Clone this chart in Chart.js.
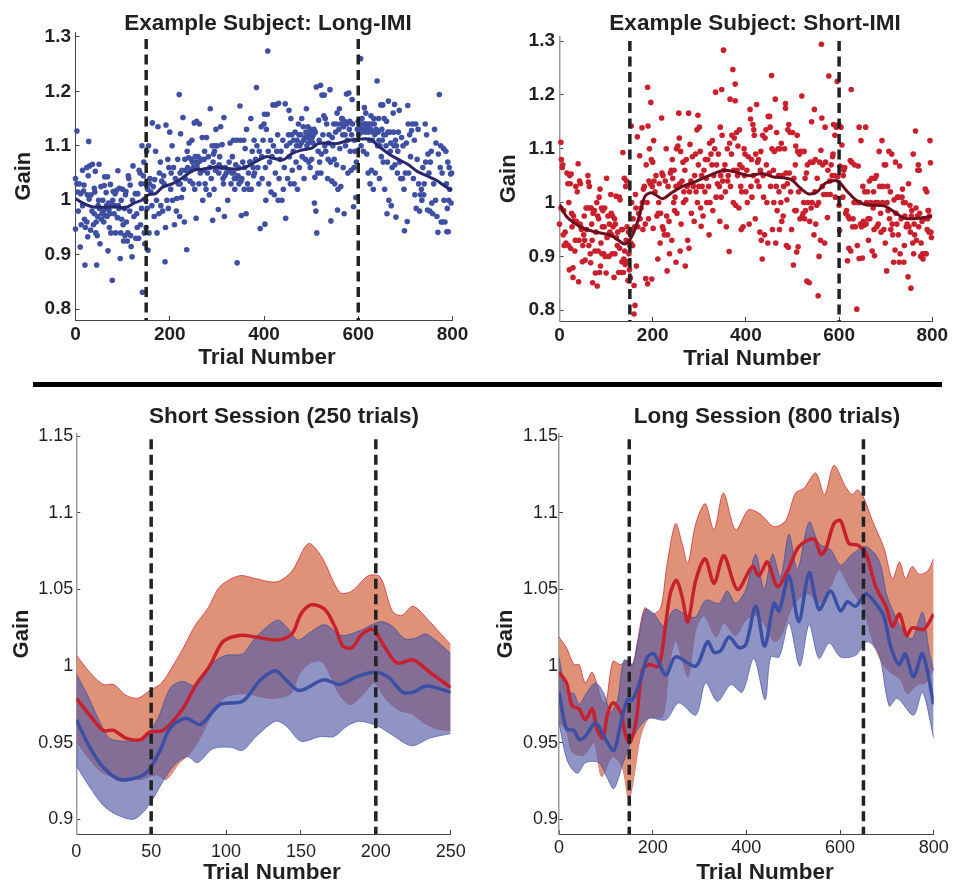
<!DOCTYPE html>
<html>
<head>
<meta charset="utf-8">
<title>Gain by trial number</title>
<script src="https://cdn.jsdelivr.net/npm/chart.js@4/dist/chart.umd.min.js"></script>
<style>
    html, body { margin: 0; padding: 0; background: #fff; overflow: hidden; }
    #figure { position: relative; width: 958px; height: 880px; overflow: hidden; }
    #figure canvas { position: absolute; }
    #divider { position: absolute; left: 33px; top: 382px; width: 909px; height: 5px; background: #000; }
</style>
</head>
<body>
<div id="figure">
    <div id="divider"></div>
    <canvas id="panelA"></canvas>
    <canvas id="panelB"></canvas>
    <canvas id="panelC"></canvas>
    <canvas id="panelD"></canvas>
</div>
<script>
// tick labels
const trialTicks800 = [0, 200, 400, 600, 800];
const trialTicks250 = [0, 50, 100, 150, 200, 250];
const gainTicksSubject = [0.8, 0.9, 1, 1.1, 1.2, 1.3];
const gainTicksSession = [0.9, 0.95, 1, 1.05, 1.1, 1.15];

// trials where the dashed lines sit
const subjectLongBlocks = [150, 600];
const subjectShortBlocks = [151, 600];
const shortSessionBlocks = [50, 200];
const longSessionBlocks = [150, 650];

// example subject, long-IMI: single trials [trial, gain]
const longImiTrials = [
[0,1.04],[0,.947],[3,1.127],[3,1.03],[5,1.015],[6,.98],[8,1.03],[10,.914],[11,1.012],[12,.955],[15,1.055],[15,.99],[17,1.017],[18,1.028],[19,.965],[20,.881],[21,.95],[24,.96],[24,1.06],[25,1.01],
[26,.933],[27,1.045],[28,1.108],[29,1.002],[30,1.063],[32,.945],[33,1.01],[35,.98],[36,1.066],[38,.955],[40,1.022],[41,1.015],[42,1.053],[43,.94],[45,.881],[46,.935],[48,.99],[49,1.0],[50,1.066],
[52,.92],[54,1.025],[56,.975],[58,1.0],[60,.96],[61,1.027],[62,1.043],[64,.985],[65,1.014],[67,.97],[68,1.043],[69,.907],[70,.995],[72,.95],[73,.975],[74,1.029],[75,.94],
[78,.853],[79,1.0],[80,1.016],[82,.975],[83,.99],[85,.94],[87,1.018],[89,.968],[90,1.054],[91,.99],[93,1.022],[95,.893],[96,.94],[97,1.0],[98,.965],
[100,1.02],[102,.925],[104,.985],[105,.935],[107,1.016],[108,.96],[110,.925],[112,1.045],[113,1.04],[115,.98],[116,1.028],[117,.935],[118,.915],[120,.896],[121,1.0],[122,1.063],[124,.97],
[127,1.012],[128,.93],[130,.975],[131,.95],[132,1.012],[134,.93],[135,1.055],[137,1.05],[138,.955],[139,1.03],[140,.985],[141,1.1],[142,.831],[144,1.045],[145,1.07],[146,.94],[147,.92],[148,1.03],[149,1.0],
[150,.95],[151,1.09],[152,.985],[153,1.02],[154,.908],[155,1.1],[156,.94],[157,1.03],[158,1.04],[160,1.015],[162,.99],[163,1.142],[165,1.025],[167,.97],[168,1.038],[170,1.09],[172,1.0],[173,.94],[175,1.135],
[177,.975],[178,1.05],[180,1.07],[181,.99],[183,1.035],[185,.98],[187,1.045],[188,1.03],[190,.887],[191,.95],[192,1.138],[194,1.0],[196,1.075],[197,.985],[198,1.06],[200,1.125],
[202,1.02],[203,1.05],[205,1.1],[206,1.0],[208,1.06],[210,.955],[212,1.04],[214,.98],[215,1.003],[217,1.075],[218,1.03],[220,1.194],[221,.97],[222,1.05],[223,1.122],[225,1.005],
[226,1.055],[228,1.152],[229,1.02],[231,.96],[232,1.075],[233,1.04],[236,.909],[237,1.09],[238,1.06],[240,1.078],[241,1.105],[243,1.035],[245,1.055],[246,1.075],[247,1.11],[249,1.03],[250,1.06],
[252,1.142],[253,1.02],[255,1.07],[256,.967],[257,1.145],[258,1.06],[260,1.08],[262,1.03],[263,1.14],[265,1.05],[267,1.075],[269,1.115],[270,1.0],[272,1.055],[274,1.09],[275,1.03],
[277,1.02],[278,1.115],[280,1.05],[282,1.08],[284,1.01],[286,1.168],[288,1.04],[290,1.1],[291,.963],[292,1.07],[294,1.02],[295,1.09],[297,1.055],[298,1.13],[300,1.06],
[301,1.1],[303,.983],[304,1.05],[306,1.08],[308,1.135],[310,1.06],[311,1.102],[313,1.04],[314,1.03],[315,1.152],[316,.97],[318,1.06],[320,1.05],[323,1.0],
[326,1.07],[328,1.105],[330,1.03],[332,1.05],[333,1.08],[335,1.11],[337,1.04],[338,1.02],[340,1.065],[342,1.11],[343,.885],[345,1.045],[347,1.03],[349,1.173],[350,1.11],
[352,.972],[353,1.04],[355,1.07],[357,1.11],[358,1.02],[360,1.095],[362,.975],[363,1.13],[365,1.03],[367,1.05],[368,1.02],[370,1.07],[372,1.15],[373,1.02],[375,1.09],
[377,1.06],[379,1.11],[380,1.05],[382,1.075],[384,1.207],[385,1.1],[387,1.06],[389,1.03],[390,1.09],[392,.948],[394,1.135],[395,1.08],[396,1.04],[398,1.11],[400,1.14],
[401,1.158],[402,.956],[403,1.06],[404,1.0],[405,1.13],[407,1.158],[408,1.274],[409,1.09],[410,1.03],[412,1.07],[414,1.11],[415,1.015],[417,1.08],[419,1.175],[420,1.1],[422,1.01],[424,1.05],[425,1.175],
[427,1.09],[429,1.12],[430,1.0],[431,1.178],[432,1.04],[434,1.075],[436,1.09],[438,1.0],[440,1.11],[441,1.02],[443,1.06],[445,1.177],[446,.967],[448,1.1],[450,1.04],
[452,1.12],[453,1.165],[454,1.08],[456,1.03],[457,1.15],[459,1.12],[460,1.055],[462,1.09],[464,1.03],[466,1.125],[468,1.07],[470,1.11],[471,1.02],[473,1.14],[475,1.06],
[476,1.1],[478,1.12],[480,1.15],[481,1.08],[483,1.135],[485,1.04],[487,1.115],[488,1.075],[490,1.168],[491,1.1],[493,1.135],[495,1.07],[496,1.12],[498,1.06],[500,1.11],
[501,1.075],[503,1.125],[505,1.12],[507,.995],[508,1.042],[510,.98],[511,1.208],[512,.94],[514,1.05],[515,1.09],[516,1.147],[518,1.07],[520,1.211],[521,1.05],[523,1.193],[525,1.12],
[527,1.155],[528,1.193],[530,1.15],[531,1.09],[533,1.14],[535,1.04],[536,1.075],[538,1.12],[540,1.203],[541,1.07],[542,.962],[544,1.035],[546,1.1],[548,1.14],[549,1.075],[550,1.03],
[552,1.125],[554,1.065],[555,1.16],[556,.982],[557,1.02],[559,1.13],[560,1.168],[561,1.095],[563,1.025],[565,1.15],[567,1.12],[568,1.06],[570,.975],[571,1.145],[573,1.1],[575,1.195],
[576,1.14],[578,1.05],[580,1.197],[581,1.13],[583,1.09],[585,1.055],[587,1.185],[588,1.14],[590,.988],[591,1.06],[592,1.11],[593,1.09],[595,1.005],[596,1.07],[598,1.13],[600,1.145],
[601,1.12],[603,1.135],[605,1.26],[606,1.1],[608,1.15],[609,1.13],[611,1.09],[613,1.17],[614,1.14],[616,1.16],[618,1.085],[620,1.13],[621,1.05],[623,1.14],[625,1.03],
[627,1.155],[628,1.055],[630,1.11],[632,1.02],[634,1.14],[636,1.05],[638,1.13],[640,1.219],[641,1.1],[643,1.15],[645,1.04],[646,1.1],[648,1.175],[649,1.08],[650,1.13],
[652,1.175],[653,1.07],[655,1.15],[656,1.02],[658,1.12],[660,1.145],[661,.975],[662,1.07],[664,1.182],[665,1.0],[667,1.125],[668,1.09],[670,.99],[672,1.06],[674,1.16],[675,1.125],
[677,1.176],[678,1.065],[680,.969],[681,1.1],[683,1.05],[685,1.125],[687,1.165],[688,1.07],[690,1.04],[692,1.115],[694,1.04],[695,1.1],[697,1.02],[698,.944],[700,1.05],
[702,1.105],[704,.961],[705,1.174],[706,1.14],[707,1.05],[709,1.12],[711,1.08],[713,1.128],[715,1.14],[717,1.04],[719,1.11],[720,1.01],[722,1.14],[723,.985],[725,1.075],
[727,1.13],[728,1.03],[730,.98],[732,1.01],[734,1.02],[735,1.0],[737,1.06],[739,1.01],[740,1.03],[742,1.14],[743,1.07],[745,1.12],[747,.982],[748,1.085],[750,1.05],
[752,.98],[753,1.07],[755,1.09],[756,.995],[758,.975],[760,1.03],[762,1.13],[764,1.0],[765,1.105],[767,.97],[769,.941],[770,1.085],[772,1.194],[774,1.06],[775,1.1],
[776,.96],[778,1.05],[779,.96],[781,1.095],[782,1.0],[784,.96],[786,1.09],[787,1.03],[788,.942],[789,.985],[790,1.07],[791,.942],[792,1.0],[793,1.06],[794,1.02],[796,1.048],[797,.995],[798,1.05],
[40,.975],[44,.96],[47,.97],[51,.985],[55,.965],[59,.98],[63,.972],[66,.99],[71,.982],[76,.99],[84,1.012],[92,.985],[101,.955],[106,1.01],[111,.94],
[222,1.03],[234,1.055],[248,1.07],[254,1.08],[259,1.068],[264,1.072],[273,1.075],[285,1.06],[293,1.085],[296,1.1],[305,1.065],[317,1.045],[325,1.055],[336,1.05],[341,1.04],[346,1.06],[351,1.035],[359,1.06],[371,1.07],[378,1.045],
[455,1.105],[463,1.11],[469,1.1],[474,1.12],[479,1.105],[484,1.11],[489,1.125],[492,1.115],[494,1.105],[497,1.12],[499,1.13],[502,1.115],[504,1.105],[506,1.13],[509,1.125],
[517,1.11],[522,1.085],[529,1.1],[537,1.105],[545,1.115],[553,1.14],[562,1.14],[566,1.15],[569,1.135],[572,1.12],[577,1.11],[582,1.145],[586,1.12],
[602,1.13],[604,1.14],[607,1.125],[610,1.14],[612,1.13],[615,1.125],[617,1.14],[619,1.135],[622,1.125],[624,1.11],[626,1.13],[629,1.14],[631,1.125],[633,1.15],[635,1.12],[642,1.125],[644,1.11],[651,1.11],[654,1.12],[659,1.1],[663,1.125],[669,1.105],[676,1.1],[679,1.11],[684,1.09]
];
const longImiMean = [[0,1.003],[15,.995],[35,.988],[60,.987],[85,.988],[105,.986],[125,.995],[140,1.0],[155,1.01],[170,1.012],[185,1.024],[205,1.03],[225,1.04],[250,1.055],[270,1.057],[300,1.061],[325,1.058],[345,1.057],[365,1.062],[385,1.072],[405,1.08],[420,1.077],[440,1.074],[460,1.086],[480,1.092],[500,1.095],[515,1.104],[530,1.105],[555,1.104],[580,1.11],[600,1.112],[625,1.112],[645,1.098],[665,1.085],[685,1.075],[705,1.066],[725,1.053],[745,1.045],[765,1.037],[785,1.025],[798,1.018]];

// example subject, short-IMI: single trials [trial, gain]
const shortImiTrials = [
[0,.96],[3,1.112],[3,.99],[4,1.08],[6,1.065],[7,1.07],[8,.94],[9,.985],[10,.92],[12,.945],[14,.925],[16,1.055],[18,1.035],[19,.92],[20,1.0],[21,.875],[22,1.05],[23,1.035],[24,.915],[25,1.053],
[26,.98],[27,.955],[29,.879],[29,.861],[30,.975],[31,.965],[33,.91],[34,.93],[35,1.03],[36,.965],[38,1.02],[40,1.072],[41,.853],[42,.93],[43,1.04],[44,.96],[45,1.035],[46,.955],[47,.95],[49,.89],
[50,.92],[52,.94],[53,.975],[54,.93],[55,.893],[57,.99],[58,.95],[60,.99],[61,1.05],[62,1.038],[63,.92],[64,1.03],[65,.99],[66,.905],[67,.888],[68,.99],[69,.96],[70,.93],[71,.851],[72,.98],
[75,.985],[76,.91],[77,.869],[78,.945],[80,1.0],[81,.845],[82,.975],[83,.91],[84,.97],[85,1.01],[86,.87],[87,1.025],[88,.882],[89,.925],[90,.99],[91,.905],[92,.955],[93,.985],[95,.905],[96,.955],[97,.99],[98,.9],
[100,.869],[101,1.045],[102,.935],[104,.975],[105,.94],[106,.9],[107,.96],[108,.945],[110,1.015],[111,.98],[112,.94],[113,.905],[114,.975],[115,.955],[117,.861],[118,.97],[119,.905],[120,.96],[121,1.012],[122,.935],[124,.92],[125,.945],
[127,.87],[128,1.01],[129,.915],[130,1.005],[132,.87],[133,.95],[134,.89],[135,.95],[136,1.093],[137,.87],[138,.895],[139,1.045],[140,.91],[141,.885],[142,1.03],[143,.93],[144,1.04],[145,.955],[146,.89],[147,.855],[148,.945],[149,.905],[150,.875],
[151,.92],[152,.86],[153,.925],[154,1.142],[155,1.0],[156,.95],[157,.92],[158,.97],[160,.846],[160,.793],[161,.955],[162,.809],[163,1.015],[164,.99],[165,.882],[167,1.122],[168,.955],[170,.98],[172,1.087],[173,.97],[175,.99],
[177,1.139],[178,1.0],[179,.95],[180,1.025],[182,1.03],[184,.96],[185,.859],[186,1.07],[188,1.0],[189,1.214],[189,.849],[190,1.142],[191,.97],[192,1.04],[193,1.1],[195,1.035],[196,1.186],[197,1.08],[198,.858],[199,1.03],[200,1.075],
[201,.952],[202,1.115],[203,1.04],[205,1.02],[207,1.05],[209,.975],[211,.895],[212,.98],[213,1.0],[214,1.035],[216,.925],[217,.98],[219,1.157],[220,1.055],[221,.955],[222,1.05],[223,.95],[225,.94],
[227,1.04],[229,1.1],[230,.975],[231,.873],[232,.94],[233,1.03],[235,.965],[236,.905],[238,1.055],[240,1.06],[241,.93],[242,1.08],[243,1.045],[245,1.0],[246,1.06],[247,.985],[248,1.01],[250,.889],[250,1.03],
[251,1.1],[252,.98],[254,1.105],[256,1.166],[257,1.12],[258,1.035],[259,.91],[260,1.095],[261,.96],[263,1.04],[265,1.075],[266,1.0],[267,1.02],[269,1.06],[270,.882],[271,1.005],[272,1.08],[274,1.03],[275,.93],
[277,1.166],[278,.915],[279,1.02],[280,1.108],[282,1.04],[283,.98],[285,1.085],[286,1.035],[287,1.03],[289,.965],[290,1.05],[292,1.09],[293,1.02],[295,1.135],[296,1.0],[297,1.162],[298,1.07],[299,1.03],[300,1.14],
[302,1.095],[303,.99],[304,.956],[305,1.05],[306,1.03],[308,.975],[310,1.06],[312,1.02],[313,1.08],[315,1.045],[316,1.0],[318,1.08],[320,1.03],[321,.94],[322,1.11],[323,1.0],[325,1.09],
[327,1.07],[328,1.115],[329,.985],[331,1.05],[333,1.1],[335,1.205],[336,1.01],[337,1.07],[339,1.035],[341,1.09],[343,1.03],[344,.965],[345,1.14],[346,1.05],[347,1.01],[348,1.21],[349,1.125],[350,1.04],
[352,1.283],[353,1.06],[355,1.07],[356,1.02],[358,.955],[360,1.1],[361,1.04],[362,1.05],[364,.909],[365,1.11],[366,1.192],[367,1.03],[369,1.09],[370,1.125],[372,1.247],[373,1.0],[374,1.06],[375,1.12],
[377,1.22],[377,1.189],[378,.995],[380,1.13],[381,1.06],[382,1.05],[383,1.105],[385,.99],[386,1.135],[387,1.07],[389,1.03],[390,.95],[391,1.02],[392,1.065],[394,.955],[396,1.1],[397,1.05],[398,1.09],[400,1.02],
[402,1.06],[403,1.0],[405,1.085],[407,.96],[409,1.173],[410,1.155],[411,1.03],[412,1.08],[413,1.01],[415,1.145],[416,1.05],[417,1.135],[418,1.125],[420,.97],[421,1.09],[423,1.182],[424,1.04],[425,1.075],
[427,1.08],[428,1.03],[430,.945],[431,1.06],[432,1.095],[433,.93],[435,.895],[436,1.125],[437,1.05],[438,1.01],[440,.94],[441,1.12],[443,1.135],[444,1.07],[445,1.0],[447,.925],[448,1.16],[450,1.055],
[451,1.16],[452,1.14],[453,1.03],[455,1.236],[456,1.1],[457,.95],[459,1.06],[460,1.0],[461,1.095],[463,1.192],[464,.925],[465,1.03],[466,1.13],[467,.985],[469,1.1],[470,1.05],[471,1.02],[472,.95],[473,1.1],[475,1.0],
[476,1.11],[477,.965],[478,1.05],[480,.975],[481,1.03],[483,1.1],[485,1.184],[485,1.175],[486,1.055],[487,.92],[488,1.005],[489,1.035],[490,1.135],[491,.917],[492,1.145],[493,1.055],[495,1.13],[496,1.02],[498,.95],[500,1.13],
[502,.884],[503,1.045],[505,.985],[506,1.07],[507,1.105],[508,.985],[509,.908],[510,1.125],[511,1.095],[512,.918],[513,1.02],[515,1.09],[516,.97],[518,1.095],[520,1.198],[521,.975],[523,.98],[524,1.0],[525,1.095],
[526,.97],[527,1.045],[528,.985],[530,1.055],[531,.854],[532,1.07],[533,1.0],[536,.851],[537,.965],[538,1.075],[540,.99],[541,1.15],[542,1.0],[544,1.075],[546,.94],[547,1.173],[548,1.02],[549,1.08],[550,.96],
[552,.995],[553,1.045],[555,.827],[556,1.0],[557,.9],[558,1.075],[560,.93],[561,1.097],[562,1.294],[563,1.157],[564,1.03],[565,1.07],[567,1.015],[569,.925],[570,1.14],[571,1.075],[573,1.015],[575,.972],
[576,1.06],[578,1.235],[580,1.04],[581,1.015],[583,1.07],[585,1.05],[586,1.085],[587,1.09],[588,1.145],[590,1.05],[591,1.125],[592,1.01],[594,1.14],[596,1.225],[597,1.048],[599,1.145],[600,.995],
[601,.948],[602,1.068],[604,1.14],[606,1.107],[608,1.01],[609,1.05],[610,1.06],[612,1.065],[614,.98],[616,.985],[618,.892],[619,.975],[621,.915],[622,.97],[624,1.078],[625,.91],[626,1.21],[627,1.075],
[629,.955],[630,.97],[632,1.0],[633,1.07],[635,.955],[638,.802],[639,.92],[640,1.0],[641,1.068],[643,1.14],[643,.896],[644,1.0],[646,.96],[647,1.115],[648,.955],[650,.897],
[651,1.03],[652,.965],[654,.958],[655,1.02],[657,1.14],[658,.96],[659,1.0],[661,1.02],[662,.97],[663,.93],[665,1.04],[666,.97],[668,1.0],[670,1.045],[671,.91],[673,.99],[674,1.02],[675,.95],
[676,.901],[677,1.045],[678,1.0],[680,1.05],[681,.955],[683,1.0],[684,.96],[686,1.095],[687,1.03],[689,.98],[690,.945],[692,1.115],[693,1.0],[694,1.03],[696,.95],[697,1.07],[699,.925],[700,1.07],
[702,.873],[703,1.0],[704,1.03],[705,.985],[707,1.095],[708,.97],[710,1.02],[711,.95],[713,1.09],[714,.96],[715,.94],[717,.889],[718,1.005],[720,.912],[721,1.075],[722,.98],[724,.96],[725,1.01],
[727,.94],[728,1.01],[729,.889],[730,1.068],[731,.905],[733,.97],[735,1.01],[736,1.025],[738,1.0],[739,.889],[740,.92],[741,.975],[742,1.0],[744,.955],[746,.96],[748,.862],[749,1.035],[750,.955],
[752,.995],[753,.945],[754,.841],[755,.975],[756,.985],[758,.925],[759,1.09],[760,.905],[761,.96],[762,.94],[764,1.133],[765,.99],[766,.93],[768,.975],[769,1.06],[770,1.07],[771,.955],[772,1.06],[773,.98],[775,.9],
[776,.925],[778,.965],[779,.905],[780,.895],[782,.97],[784,.905],[785,1.025],[787,.905],[788,1.02],[789,.95],[790,.97],[791,.985],[792,.985],[793,.945],[794,.975],[795,1.115],[796,1.074],[797,.945],[798,.935]
];
const shortImiMean = [[0,.997],[15,.974],[35,.96],[49,.953],[74,.946],[110,.939],[128,.929],[139,.923],[150,.93],[160,.946],[171,.974],[183,1.011],[196,1.018],[207,1.014],[221,1.007],[239,1.017],[264,1.03],[292,1.039],[321,1.05],[353,1.06],[375,1.057],[407,1.05],[435,1.054],[457,1.048],[496,1.043],[518,1.026],[535,1.016],[553,1.02],[571,1.036],[596,1.04],[618,1.02],[636,1.005],[657,.996],[696,.994],[718,.983],[739,.971],[761,.97],[799,.974]];

// short session (250 trials)
const shortRedUpper = [[0,1.007],[9,.996],[18,.988],[25,.988],[33,.981],[41,.979],[49,.984],[57,.989],[65,1.001],[71,1.011],[79,1.026],[88,1.038],[96,1.052],[109,1.059],[120,1.057],[134,1.055],[144,1.062],[155,1.08],[164,1.071],[176,1.048],[184,1.049],[195,1.059],[203,1.058],[211,1.036],[217,1.033],[225,1.039],[236,1.029],[250,1.014]];
const shortRedLower = [[0,.951],[9,.939],[18,.93],[31,.927],[43,.926],[49,.928],[54,.929],[60,.926],[69,.937],[76,.943],[83,.954],[91,.969],[100,.98],[114,.982],[123,.98],[132,.979],[143,.982],[149,.995],[156,1.002],[164,1.003],[169,.995],[176,.981],[183,.975],[192,.982],[199,.989],[207,.978],[216,.971],[224,.969],[232,.963],[241,.959],[250,.958]];
const shortBlueUpper = [[0,.995],[7,.982],[16,.963],[22,.953],[31,.951],[43,.952],[49,.957],[55,.967],[63,.986],[71,.99],[80,.987],[91,1.002],[100,1.007],[111,1.008],[120,1.019],[134,1.03],[140,1.026],[148,1.017],[156,1.022],[166,1.027],[177,1.02],[189,1.023],[203,1.029],[211,1.026],[219,1.018],[226,1.018],[233,1.021],[241,1.016],[250,1.008]];
const shortBlueLower = [[0,.935],[9,.921],[18,.909],[27,.903],[38,.9],[45,.905],[51,.913],[58,.925],[65,.935],[74,.941],[81,.937],[91,.946],[103,.947],[111,.945],[120,.954],[133,.964],[140,.961],[150,.951],[163,.954],[172,.954],[181,.961],[189,.964],[201,.961],[211,.955],[224,.948],[236,.953],[250,.956]];
const shortRedMean = [[0,.979],[9,.968],[18,.958],[25,.958],[33,.953],[43,.952],[49,.957],[58,.958],[71,.972],[80,.988],[89,1.0],[98,1.016],[109,1.02],[120,1.019],[134,1.017],[144,1.021],[150,1.034],[157,1.04],[166,1.037],[173,1.025],[178,1.013],[184,1.012],[191,1.021],[198,1.024],[205,1.014],[214,1.002],[225,1.004],[236,.996],[250,.986]];
const shortBlueMean = [[0,.965],[9,.947],[18,.934],[29,.926],[43,.928],[49,.933],[56,.945],[63,.96],[73,.966],[83,.962],[96,.975],[111,.977],[123,.991],[133,.997],[140,.991],[149,.984],[165,.991],[176,.988],[187,.993],[199,.996],[208,.993],[218,.983],[225,.983],[234,.987],[250,.983]];

// long session (800 trials)
const longRedUpper = [[0,1.019],[16,1.012],[32,1.001],[43,1.001],[56,.989],[71,.996],[91,.978],[100,.976],[115,1.003],[132,1.001],[146,1.004],[157,1.001],[167,1.015],[183,1.038],[199,1.034],[217,1.038],[231,1.067],[249,1.093],[263,1.08],[275,1.067],[292,1.093],[312,1.106],[331,1.089],[351,1.113],[377,1.089],[404,1.102],[420,1.101],[434,1.098],[459,1.091],[484,1.095],[505,1.113],[523,1.116],[548,1.126],[567,1.112],[587,1.131],[612,1.117],[626,1.112],[637,1.115],[649,1.111],[669,1.095],[694,1.077],[712,1.057],[727,1.068],[740,1.057],[754,1.065],[769,1.06],[787,1.062],[800,1.07]];
const longRedLower = [[0,.963],[16,.958],[28,.944],[53,.942],[75,.95],[91,.928],[114,.941],[135,.934],[149,.913],[160,.928],[174,.954],[192,.966],[221,.967],[235,1.0],[249,1.017],[263,1.004],[276,.993],[292,1.024],[310,1.033],[335,1.019],[352,1.028],[377,1.02],[399,1.03],[420,1.033],[441,1.026],[459,1.016],[473,1.019],[495,1.037],[512,1.044],[534,1.047],[555,1.041],[580,1.052],[598,1.063],[619,1.052],[637,1.044],[651,1.037],[669,1.017],[690,1.002],[708,.996],[730,.991],[744,.982],[765,.988],[783,.989],[800,.999]];
const longBlueUpper = [[0,1.006],[16,.983],[32,.982],[43,.975],[60,.983],[78,.989],[96,.982],[110,.97],[125,.978],[139,1.004],[157,1.001],[171,1.02],[185,1.037],[203,1.034],[224,1.026],[246,1.037],[274,1.033],[292,1.032],[313,1.043],[342,1.041],[359,1.049],[377,1.041],[399,1.05],[420,1.073],[438,1.05],[456,1.073],[473,1.058],[491,1.086],[509,1.063],[534,1.094],[555,1.08],[580,1.076],[601,1.066],[626,1.073],[655,1.078],[683,1.069],[701,1.045],[722,1.03],[737,1.022],[754,1.018],[776,1.035],[790,1.01],[800,.997]];
const longBlueLower = [[0,.963],[18,.938],[39,.93],[57,.937],[85,.937],[103,.927],[117,.92],[135,.935],[153,.95],[171,.96],[192,.966],[228,.965],[256,.976],[292,.968],[313,.989],[338,.977],[367,.988],[391,.983],[416,1.005],[440,.978],[452,1.006],[470,1.006],[491,1.028],[514,1.0],[534,1.027],[555,1.005],[577,1.015],[601,1.006],[633,1.007],[658,1.016],[683,1.008],[705,.974],[722,.979],[757,.968],[776,.983],[800,.953]];
const longRedMean = [[0,.996],[16,.989],[28,.974],[43,.972],[56,.965],[71,.972],[82,.958],[94,.953],[103,.968],[115,.976],[132,.97],[142,.955],[151,.95],[164,.963],[178,.997],[192,1.001],[213,1.0],[228,1.028],[238,1.048],[251,1.056],[263,1.045],[275,1.029],[292,1.056],[312,1.07],[331,1.054],[352,1.072],[381,1.05],[413,1.065],[427,1.059],[445,1.068],[466,1.052],[488,1.062],[512,1.078],[544,1.083],[559,1.073],[569,1.076],[587,1.093],[601,1.095],[619,1.08],[637,1.079],[655,1.074],[676,1.052],[698,1.039],[712,1.026],[727,1.034],[742,1.02],[754,1.025],[779,1.024],[800,1.034]];
const longBlueMean = [[0,.983],[16,.959],[32,.958],[43,.952],[56,.954],[78,.963],[96,.954],[117,.945],[132,.963],[146,.978],[157,.978],[174,.991],[189,1.006],[203,1.008],[228,.994],[249,1.006],[292,1.0],[317,1.016],[331,1.009],[345,1.01],[363,1.019],[384,1.012],[399,1.014],[420,1.039],[439,1.013],[459,1.041],[470,1.036],[491,1.059],[512,1.029],[534,1.061],[555,1.037],[580,1.049],[601,1.036],[616,1.042],[633,1.039],[655,1.047],[676,1.041],[694,1.032],[708,1.013],[726,1.001],[739,1.008],[757,.993],[776,1.008],[800,.975]];

const TEXT_COLOR = '#231f20';
const FONT = '"Liberation Sans", Arial, sans-serif';

const BLUE_DOT = '#3f50a2';
const RED_DOT = '#c8202c';
const RED_LINE = '#c8202c';
const BLUE_LINE = '#3b4fa4';
const RED_BAND = 'rgb(223, 146, 120)';
const BLUE_BAND = 'rgba(83, 91, 166, 0.65)';

// titles and the x label are placed by hand, they are not centred on the axes in the figure
const captions = {
    id: 'captions',
    afterDraw(chart, args, opts) {
        const ctx = chart.ctx;
        ctx.save();
        ctx.fillStyle = TEXT_COLOR;
        ctx.textAlign = 'center';
        ctx.textBaseline = 'middle';
        ctx.font = 'bold 22.5px ' + FONT;
        ctx.fillText(opts.title, opts.titleX, opts.titleY);
        ctx.fillText(chart.options.scales.x.title.text, opts.xLabelX, opts.xLabelY);
        ctx.restore();
    }
};

function dashedLines(trials, top, bottom) {
    return trials.map(function(t) {
        return {
            label: 'block ' + t,
            data: [[t, top], [t, bottom]],
            borderColor: '#222',
            borderWidth: 3.5,
            borderDash: [10, 5.5],
            pointRadius: 0,
            order: 0,
            clip: false
        };
    });
}

function dots(label, data, color) {
    return { label: label, data: data, showLine: false, pointRadius: 2.8, pointBorderWidth: 0, pointBackgroundColor: color, order: 5, clip: false };
}

function meanLine(label, data, color, width, order) {
    return { label: label, data: data, borderColor: color, borderWidth: width, tension: 0.3, pointRadius: 0, order: order };
}

function band(label, data, fill, edge, order, fillTo) {
    return { label: label, data: data, borderColor: edge, borderWidth: 0.7, backgroundColor: fill, fill: fillTo, tension: 0.3, pointRadius: 0, order: order };
}

function makePanel(p) {
    const el = document.getElementById(p.id);
    el.width = p.box.w;
    el.height = p.box.h;
    el.style.left = p.box.x + 'px';
    el.style.top = p.box.y + 'px';
    el.style.width = p.box.w + 'px';
    el.style.height = p.box.h + 'px';

    return new Chart(el.getContext('2d'), {
        type: 'line',
        data: { datasets: p.datasets },
        plugins: [captions],
        options: {
            responsive: false,
            animation: false,
            layout: {
                autoPadding: false,
                padding: { left: 0, right: p.box.x + p.box.w - p.plot.right, top: p.plot.top - p.box.y, bottom: 0 }
            },
            plugins: {
                legend: { display: false },
                title: { display: false },
                tooltip: { enabled: false },
                captions: {
                    title: p.title,
                    titleX: p.titleX - p.box.x,
                    titleY: p.titleY - p.box.y,
                    xLabelX: p.xLabelX - p.box.x,
                    xLabelY: p.xLabelY - p.box.y
                }
            },
            scales: {
                x: {
                    type: 'linear',
                    min: p.xTicks[0],
                    max: p.xTicks[p.xTicks.length - 1],
                    title: { display: false, text: 'Trial Number' },
                    border: { color: '#444', width: 1 },
                    grid: { drawOnChartArea: false, tickLength: -4, color: '#444' },
                    afterBuildTicks: function(s) { s.ticks = p.xTicks.map(function(v) { return { value: v }; }); },
                    afterFit: function(s) { s.height = p.box.y + p.box.h - p.plot.bottom; },
                    ticks: {
                        autoSkip: false,
                        maxRotation: 0,
                        padding: p.xTickPad,
                        color: TEXT_COLOR,
                        font: { family: FONT, size: p.tickSize, weight: p.tickWeight },
                        callback: function(v) { return String(v); }
                    }
                },
                y: {
                    type: 'linear',
                    min: p.yMin,
                    max: p.yMax,
                    title: {
                        display: true,
                        text: 'Gain',
                        color: TEXT_COLOR,
                        font: { family: FONT, size: 22, weight: 'bold' },
                        padding: { top: p.gainPad, bottom: 0 }
                    },
                    border: { color: p.yAxisColor, width: p.yAxisWidth },
                    grid: { drawOnChartArea: false, tickLength: -4, color: '#444' },
                    afterBuildTicks: function(s) { s.ticks = p.yTicks.map(function(v) { return { value: v }; }); },
                    afterFit: function(s) { s.width = p.plot.left - p.box.x; },
                    ticks: {
                        autoSkip: false,
                        padding: p.yTickPad,
                        color: TEXT_COLOR,
                        font: { family: FONT, size: p.tickSize, weight: p.tickWeight },
                        callback: function(v) { return String(v); }
                    }
                }
            }
        }
    });
}

makePanel({
    id: 'panelA',
    box: { x: 0, y: 0, w: 479, h: 380 },
    plot: { left: 75.5, right: 452.5, top: 32.5, bottom: 320 },
    title: 'Example Subject: Long-IMI', titleX: 268, titleY: 23.5, xLabelX: 267, xLabelY: 358,
    xTicks: trialTicks800, yTicks: gainTicksSubject, yMin: 0.78, yMax: 1.308,
    tickWeight: 'bold', tickSize: 19, xTickPad: 7, yTickPad: 8.5, gainPad: 11, yAxisColor: '#444', yAxisWidth: 1,
    datasets: dashedLines(subjectLongBlocks, 1.296, 0.78).concat([
        meanLine('Long-IMI mean', longImiMean, '#28286e', 3, 1),
        dots('Long-IMI trials', longImiTrials, BLUE_DOT)
    ])
});

makePanel({
    id: 'panelB',
    box: { x: 490, y: 0, w: 468, h: 380 },
    plot: { left: 559.5, right: 932.3, top: 36.7, bottom: 321 },
    title: 'Example Subject: Short-IMI', titleX: 755, titleY: 23.5, xLabelX: 752, xLabelY: 359,
    xTicks: trialTicks800, yTicks: gainTicksSubject, yMin: 0.78, yMax: 1.308,
    tickWeight: 'bold', tickSize: 19, xTickPad: 7, yTickPad: 8.5, gainPad: 6, yAxisColor: '#999', yAxisWidth: 1.5,
    datasets: dashedLines(subjectShortBlocks, 1.3, 0.78).concat([
        meanLine('Short-IMI mean', shortImiMean, '#6b0f1f', 3, 1),
        dots('Short-IMI trials', shortImiTrials, RED_DOT)
    ])
});

// fill:'+1' runs from each upper edge down to the lower edge right after it
makePanel({
    id: 'panelC',
    box: { x: 0, y: 390, w: 479, h: 490 },
    plot: { left: 76.3, right: 450.7, top: 434, bottom: 834 },
    title: 'Short Session (250 trials)', titleX: 284, titleY: 416.5, xLabelX: 272, xLabelY: 873,
    xTicks: trialTicks250, yTicks: gainTicksSession, yMin: 0.8904, yMax: 1.1515,
    tickWeight: 'normal', tickSize: 18, xTickPad: 11, yTickPad: 7, gainPad: 9, yAxisColor: '#999', yAxisWidth: 1.5,
    datasets: dashedLines(shortSessionBlocks, 1.148, 0.8904).concat([
        meanLine('Long-IMI mean', shortBlueMean, BLUE_LINE, 3.5, 1),
        meanLine('Short-IMI mean', shortRedMean, RED_LINE, 3.5, 2),
        band('Long-IMI upper', shortBlueUpper, BLUE_BAND, BLUE_LINE, 3, '+1'),
        band('Long-IMI lower', shortBlueLower, BLUE_BAND, BLUE_LINE, 3, false),
        band('Short-IMI upper', shortRedUpper, RED_BAND, RED_LINE, 4, '+1'),
        band('Short-IMI lower', shortRedLower, RED_BAND, RED_LINE, 4, false)
    ])
});

makePanel({
    id: 'panelD',
    box: { x: 490, y: 390, w: 468, h: 490 },
    plot: { left: 559, right: 933.7, top: 434, bottom: 834 },
    title: 'Long Session (800 trials)', titleX: 767, titleY: 416.5, xLabelX: 765, xLabelY: 873,
    xTicks: trialTicks800, yTicks: gainTicksSession, yMin: 0.8904, yMax: 1.1515,
    tickWeight: 'normal', tickSize: 18, xTickPad: 7, yTickPad: 5, gainPad: 3, yAxisColor: '#999', yAxisWidth: 1.5,
    datasets: dashedLines(longSessionBlocks, 1.148, 0.8904).concat([
        meanLine('Long-IMI mean', longBlueMean, BLUE_LINE, 3.5, 1),
        meanLine('Short-IMI mean', longRedMean, RED_LINE, 3.5, 2),
        band('Long-IMI upper', longBlueUpper, BLUE_BAND, BLUE_LINE, 3, '+1'),
        band('Long-IMI lower', longBlueLower, BLUE_BAND, BLUE_LINE, 3, false),
        band('Short-IMI upper', longRedUpper, RED_BAND, RED_LINE, 4, '+1'),
        band('Short-IMI lower', longRedLower, RED_BAND, RED_LINE, 4, false)
    ])
});
</script>
</body>
</html>
